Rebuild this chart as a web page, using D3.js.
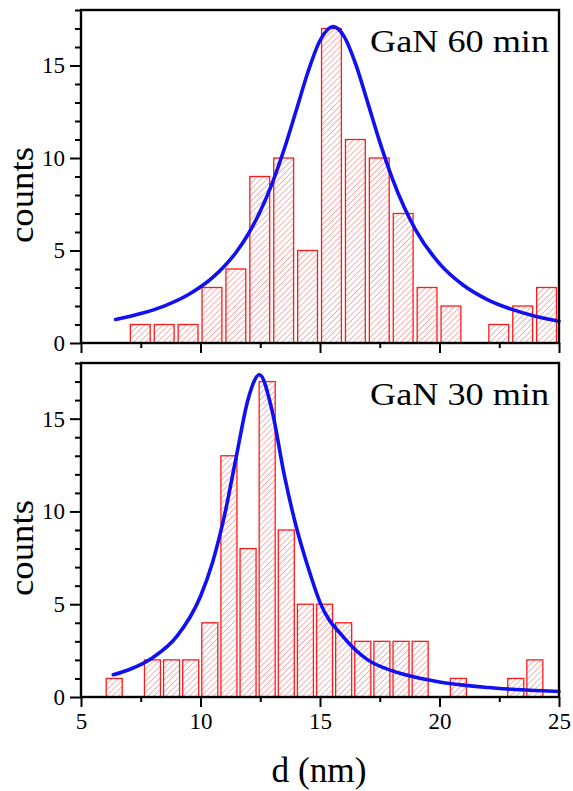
<!DOCTYPE html>
<html lang="en">
<head>
<meta charset="UTF-8">
<title>GaN particle size histograms</title>
<script src="https://cdn.jsdelivr.net/npm/d3@7"></script>
<style>
	body { margin: 0; background: #fff; }
</style>
</head>
<body>
<div id="chart"></div>
<script>
	// ---- data ----
	// GaN 60 min: bin centres (nm) and counts
	var binsTop   = [7.48, 8.48, 9.48, 10.48, 11.48, 12.48, 13.48, 14.48, 15.48, 16.48, 17.48, 18.48, 19.48, 20.48, 22.48, 23.48, 24.48];
	var countsTop = [1, 1, 1, 3, 4, 9, 10, 5, 17, 11, 10, 7, 3, 2, 1, 2, 3];
	// fitted curve for 60 min
	var fitTopX = [6.45, 7.5, 8.5, 9.5, 10.5, 11.5, 12, 12.5, 13, 13.5, 14, 14.5, 15, 15.55, 16, 16.5, 17, 17.5, 18, 18.5, 19, 20, 21, 22, 23, 24, 25];
	var fitTopY = [1.27, 1.59, 2.01, 2.62, 3.53, 4.92, 5.89, 7.12, 8.63, 10.47, 12.55, 14.66, 16.35, 17.1, 16.59, 15.05, 12.98, 10.87, 8.98, 7.4, 6.12, 4.29, 3.12, 2.35, 1.83, 1.45, 1.18];

	// GaN 30 min: bin centres (nm) and counts
	var binsBot   = [6.39, 7.99, 8.79, 9.59, 10.39, 11.19, 11.99, 12.79, 13.59, 14.39, 15.19, 15.99, 16.79, 17.59, 18.39, 19.19, 20.79, 23.19, 23.99];
	var countsBot = [1, 2, 2, 2, 4, 13, 8, 17, 9, 5, 5, 4, 3, 3, 3, 3, 1, 1, 2];
	// fitted curve for 30 min
	var fitBotX = [6.35, 7, 8, 9, 10, 10.5, 11, 11.5, 12, 12.47, 13, 13.5, 14, 14.5, 15, 16, 17, 18, 19, 20, 21, 22, 23, 24, 25];
	var fitBotY = [1.2, 1.47, 2.12, 3.25, 5.43, 7.24, 9.76, 12.97, 16.09, 17.37, 15.4, 12.0, 9.2, 6.99, 5.1, 3.2, 2.0, 1.42, 1.06, 0.81, 0.64, 0.51, 0.42, 0.35, 0.3];

	// axis ticks
	var xMajor = [5, 10, 15, 20, 25];
	var xMinor = [7.5, 12.5, 17.5, 22.5];
	var yMajor = [0, 5, 10, 15];
	var yMinor = [1, 2, 3, 4, 6, 7, 8, 9, 11, 12, 13, 14, 16, 17, 18];

	var serif = "Liberation Serif";

	var W = 573, H = 791;
	var svg = d3.select("#chart").append("svg")
		.attr("width", W).attr("height", H);

	// diagonal hatch used inside every bar
	svg.append("defs").append("pattern")
		.attr("id", "hatch")
		.attr("patternUnits", "userSpaceOnUse")
		.attr("width", 4.2).attr("height", 4.2)
		.attr("patternTransform", "rotate(45)")
		.append("line")
		.attr("x1", 0).attr("y1", 0).attr("x2", 0).attr("y2", 4.2)
		.attr("stroke", "#f25555").attr("stroke-width", 0.9);

	var x = d3.scaleLinear().domain([5, 25]).range([81, 559]);

	function drawPanel(opts)
	{
		var y = d3.scaleLinear().domain([0, 18]).range([opts.bottom, opts.top]);
		var g = svg.append("g");

		// bars
		var bw = opts.barWidth;
		var rows = opts.bins.map(function(b, i) { return { c: b, v: opts.counts[i] }; });
		g.selectAll("rect.bar").data(rows).enter().append("rect")
			.attr("class", "bar")
			.attr("x", function(d) { return x(d.c - bw / 2); })
			.attr("width", function(d) { return x(d.c + bw / 2) - x(d.c - bw / 2); })
			.attr("y", function(d) { return y(d.v); })
			.attr("height", function(d) { return y(0) - y(d.v); })
			.attr("fill", "url(#hatch)")
			.attr("stroke", "#ff1a1a")
			.attr("stroke-width", 1.3);

		// fit curve
		var pts = opts.fitX.map(function(v, i) { return [v, opts.fitY[i]]; });
		g.append("path")
			.datum(pts)
			.attr("fill", "none")
			.attr("stroke", "#1010f0")
			.attr("stroke-width", 3.6)
			.attr("stroke-linecap", "round")
			.attr("d", d3.line()
				.x(function(d) { return x(d[0]); })
				.y(function(d) { return y(d[1]); })
				.curve(d3.curveMonotoneX));

		// frame
		g.append("rect")
			.attr("x", x(5)).attr("y", opts.top)
			.attr("width", x(25) - x(5)).attr("height", opts.bottom - opts.top)
			.attr("fill", "none").attr("stroke", "#000").attr("stroke-width", 2.4);

		// y axis, major + minor ticks
		g.append("g").attr("transform", "translate(" + x(5) + ",0)")
			.call(d3.axisLeft(y).tickValues(yMajor).tickSize(11).tickPadding(5).tickFormat(d3.format("d")));
		g.append("g").attr("transform", "translate(" + x(5) + ",0)")
			.call(d3.axisLeft(y).tickValues(yMinor).tickSize(6).tickFormat(""));

		// x axis
		g.append("g").attr("transform", "translate(0," + opts.bottom + ")")
			.call(d3.axisBottom(x).tickValues(xMajor).tickSize(10).tickPadding(6)
				.tickFormat(opts.xLabels ? d3.format("d") : ""));
		g.append("g").attr("transform", "translate(0," + opts.bottom + ")")
			.call(d3.axisBottom(x).tickValues(xMinor).tickSize(5).tickFormat(""));

		g.selectAll(".domain").remove();
		g.selectAll("g").attr("font-family", serif);
		g.selectAll(".tick line").attr("stroke", "#000").attr("stroke-width", 2);
		g.selectAll(".tick text").attr("fill", "#000")
			.style("font-family", serif).style("font-size", "23px");

		// y title
		g.append("text")
			.attr("transform", "translate(33," + (opts.top + 185) + ") rotate(-90)")
			.attr("text-anchor", "middle")
			.style("font-family", serif).style("font-size", "33px")
			.attr("textLength", 96).attr("lengthAdjust", "spacingAndGlyphs")
			.text("counts");

		// sample label
		g.append("text")
			.attr("x", 370).attr("y", opts.top + 42)
			.style("font-family", serif).style("font-size", "32px")
			.attr("textLength", 179).attr("lengthAdjust", "spacingAndGlyphs")
			.text(opts.label);
	}

	drawPanel({ top: 10, bottom: 343, bins: binsTop, counts: countsTop, barWidth: 0.83,
		fitX: fitTopX, fitY: fitTopY, xLabels: false, label: "GaN 60 min" });
	drawPanel({ top: 363, bottom: 697, bins: binsBot, counts: countsBot, barWidth: 0.67,
		fitX: fitBotX, fitY: fitBotY, xLabels: true, label: "GaN 30 min" });

	// x title
	svg.append("text")
		.attr("x", 319).attr("y", 782)
		.attr("text-anchor", "middle")
		.style("font-family", serif).style("font-size", "35px")
		.attr("textLength", 95).attr("lengthAdjust", "spacingAndGlyphs")
		.text("d (nm)");
</script>
</body>
</html>
